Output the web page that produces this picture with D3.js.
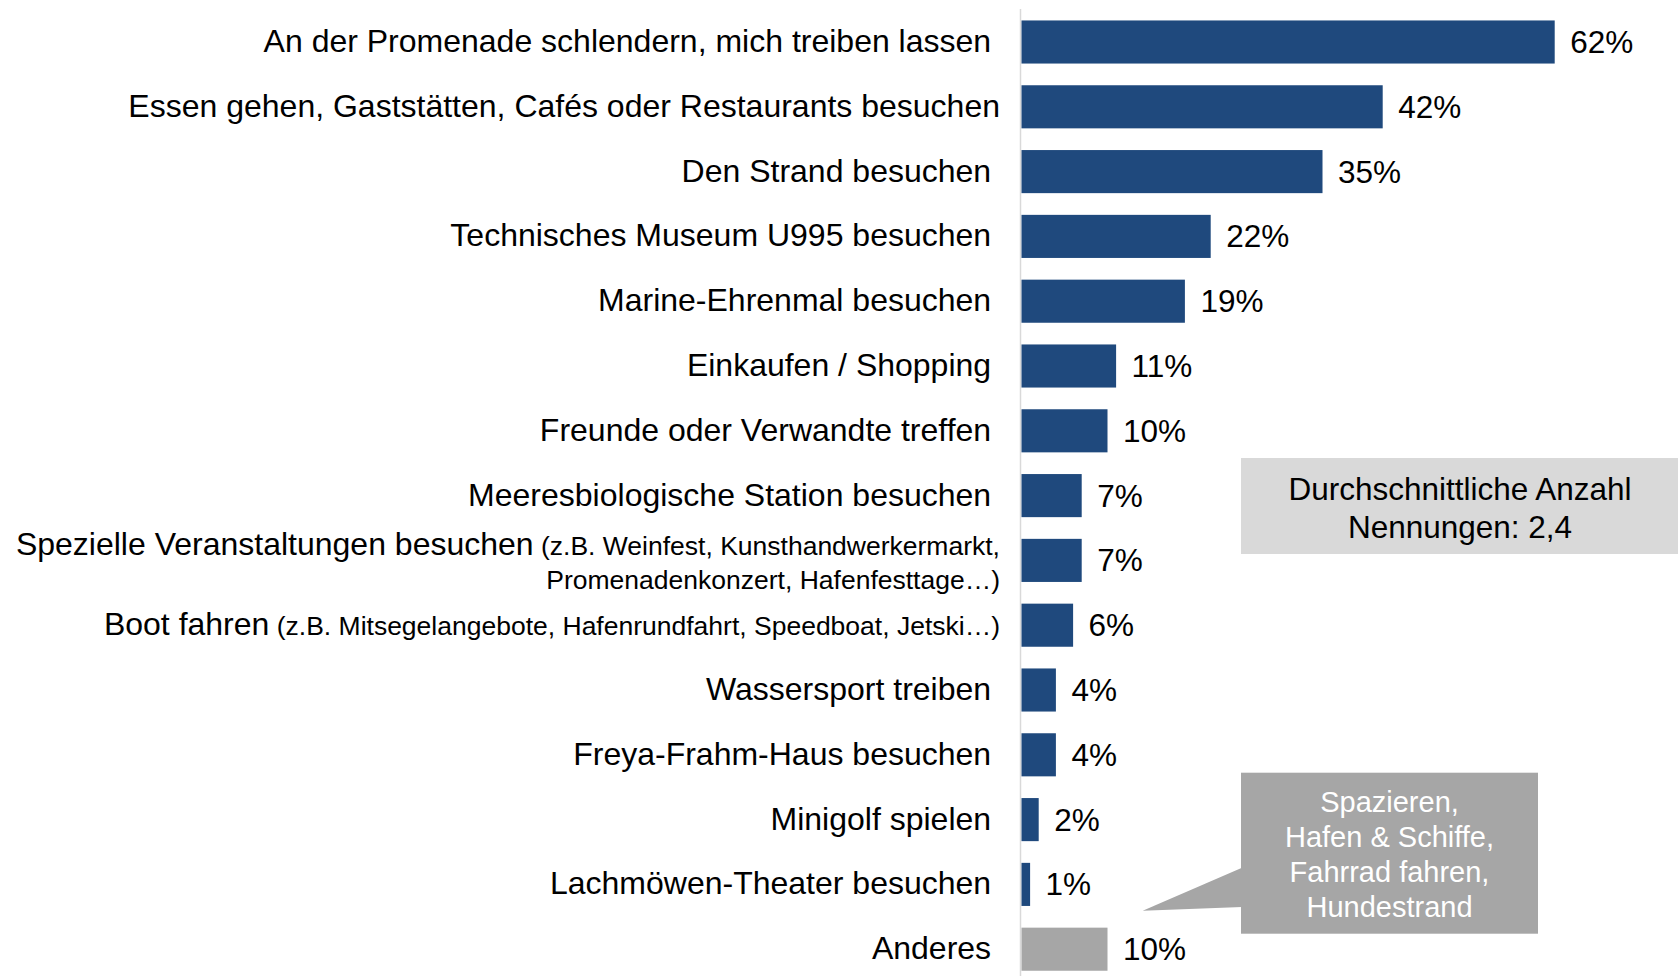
<!DOCTYPE html>
<html>
<head>
<meta charset="utf-8">
<script src="https://cdn.jsdelivr.net/npm/d3@7"></script>
<style>
  body { margin: 0; background: #fff; }
  svg { display: block; font-family: "Liberation Sans", Arial, sans-serif; }
</style>
</head>
<body>
<svg width="1678" height="976"></svg>
<script>
// labels (trailing nbsp as in the original slide), optional note in smaller type
var categories = [
    "An der Promenade schlendern, mich treiben lassen\u00a0",
    "Essen gehen, Gaststätten, Cafés oder Restaurants besuchen",
    "Den Strand besuchen\u00a0",
    "Technisches Museum U995 besuchen\u00a0",
    "Marine-Ehrenmal besuchen\u00a0",
    "Einkaufen / Shopping\u00a0",
    "Freunde oder Verwandte treffen\u00a0",
    "Meeresbiologische Station besuchen\u00a0",
    "Spezielle Veranstaltungen besuchen",
    "Boot fahren",
    "Wassersport treiben\u00a0",
    "Freya-Frahm-Haus besuchen\u00a0",
    "Minigolf spielen\u00a0",
    "Lachmöwen-Theater besuchen\u00a0",
    "Anderes\u00a0"
];
var notes = [
    "", "", "", "", "", "", "", "",
    ["\u00a0(z.B. Weinfest, Kunsthandwerkermarkt,", "Promenadenkonzert, Hafenfesttage…)"],
    ["\u00a0(z.B. Mitsegelangebote, Hafenrundfahrt, Speedboat, Jetski…)"],
    "", "", "", "", ""
];
var values = [62, 42, 35, 22, 19, 11, 10, 7, 7, 6, 4, 4, 2, 1, 10];
var otherIndex = 14;

var avgLines = ["Durchschnittliche Anzahl", "Nennungen: 2,4"];
var calloutLines = ["Spazieren,", "Hafen & Schiffe,", "Fahrrad fahren,", "Hundestrand"];

var blue = "#1f497d", grey = "#a6a6a6";

var svg = d3.select("svg");

var x = d3.scaleLinear()
    .domain([0, 70])
    .range([1021.5, 1623.5]);

var y = d3.scaleBand()
    .domain(d3.range(categories.length))
    .range([9.6, 9.6 + 64.8 * categories.length])
    .paddingInner(0.335)
    .paddingOuter(0.1675);

// axis line
svg.append("line")
    .attr("x1", 1020.5).attr("x2", 1020.5)
    .attr("y1", 9).attr("y2", 976)
    .attr("stroke", "#d9d9d9")
    .attr("stroke-width", 1.5);

// bars
svg.append("g").selectAll("rect")
    .data(values)
    .enter().append("rect")
    .attr("x", x(0))
    .attr("y", function(d, i) { return y(i); })
    .attr("width", function(d) { return x(d) - x(0); })
    .attr("height", y.bandwidth())
    .attr("fill", function(d, i) { return i === otherIndex ? grey : blue; });

// value labels
svg.append("g").selectAll("text")
    .data(values)
    .enter().append("text")
    .attr("x", function(d) { return x(d) + 15.5; })
    .attr("y", function(d, i) { return y(i) + y.bandwidth() / 2 + 11; })
    .attr("font-size", 31.5)
    .attr("fill", "#000")
    .text(function(d) { return d + "%"; });

// category labels
var labelX = 1000;
var lab = svg.append("g").selectAll("g")
    .data(categories)
    .enter().append("g");

lab.each(function(name, i) {
    var g = d3.select(this);
    var note = notes[i];
    var cy = y(i) + y.bandwidth() / 2;
    var multi = note && note.length > 1;
    var t = g.append("text")
        .attr("x", labelX)
        .attr("y", multi ? cy - 5.5 : cy + 10)
        .attr("text-anchor", "end")
        .attr("fill", "#000");
    t.append("tspan").attr("font-size", 32).text(name);
    if (note) {
        t.append("tspan").attr("font-size", 26.5).text(note[0]);
        note.slice(1).forEach(function(line, k) {
            g.append("text")
                .attr("x", labelX)
                .attr("y", cy - 5.5 + 34.5 * (k + 1))
                .attr("text-anchor", "end")
                .attr("font-size", 26.5)
                .attr("fill", "#000")
                .text(line);
        });
    }
});

// average box
svg.append("rect")
    .attr("x", 1241).attr("y", 458)
    .attr("width", 437).attr("height", 96)
    .attr("fill", "#d9d9d9");

svg.append("g").selectAll("text")
    .data(avgLines)
    .enter().append("text")
    .attr("x", 1460)
    .attr("y", function(d, i) { return 500 + i * 38; })
    .attr("text-anchor", "middle")
    .attr("font-size", 31.5)
    .attr("fill", "#000")
    .text(function(d) { return d; });

// callout for "Anderes"
svg.append("path")
    .attr("d", "M1242,867.7 L1142.7,910.7 L1242,907 Z")
    .attr("fill", grey);

svg.append("rect")
    .attr("x", 1241).attr("y", 772.7)
    .attr("width", 297).attr("height", 161)
    .attr("fill", grey);

svg.append("g").selectAll("text")
    .data(calloutLines)
    .enter().append("text")
    .attr("x", 1389.5)
    .attr("y", function(d, i) { return 811.5 + i * 35.3; })
    .attr("text-anchor", "middle")
    .attr("font-size", 29)
    .attr("fill", "#fff")
    .text(function(d) { return d; });
</script>
</body>
</html>
